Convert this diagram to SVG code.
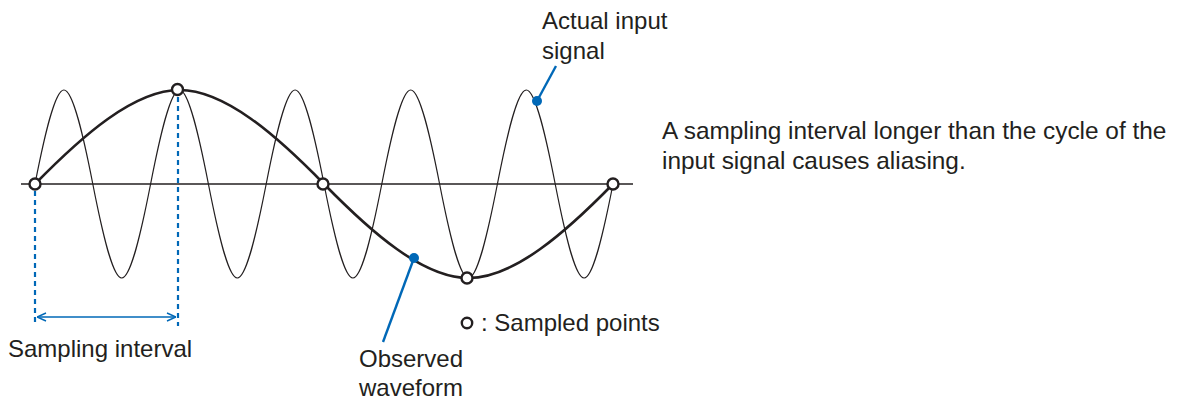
<svg xmlns="http://www.w3.org/2000/svg" width="1178" height="401" viewBox="0 0 1178 401">
<style>
text{font-family:"Liberation Sans",Arial,sans-serif;font-size:24px;fill:#231f20}
.note{font-size:24.4px}
.ax{stroke:#231f20;stroke-width:1.4;fill:none}
.fast{stroke:#231f20;stroke-width:1.2;fill:none}
.slow{stroke:#231f20;stroke-width:2.6;fill:none}
.pt{fill:#fff;stroke:#231f20;stroke-width:2.4}
.dash{stroke:#0068b7;stroke-width:2.2;stroke-dasharray:5 4;fill:none}
.lead{stroke:#0068b7;stroke-width:2.4;fill:none}
.dot{fill:#0068b7}
</style>
<defs>
<marker id="ah" viewBox="0 0 10 10" refX="10" refY="5" markerWidth="10" markerHeight="10" markerUnits="userSpaceOnUse" orient="auto-start-reverse">
<path d="M1,1 L10,5 L1,9" fill="none" stroke="#0068b7" stroke-width="1.5"/>
</marker>
</defs>
<g id="axis"><line class="ax" x1="21" y1="184" x2="633" y2="184"/></g>
<g id="input-signal">
<path class="fast" d="M35,184
c9.42,-48.1 19.77,-94 28.9,-94 c9.13,0 19.48,45.9 28.9,94 c9.42,48.1 19.77,94 28.9,94 c9.13,0 19.48,-45.9 28.9,-94
c9.42,-48.1 19.77,-94 28.9,-94 c9.13,0 19.48,45.9 28.9,94 c9.42,48.1 19.77,94 28.9,94 c9.13,0 19.48,-45.9 28.9,-94
c9.42,-48.1 19.77,-94 28.9,-94 c9.13,0 19.48,45.9 28.9,94 c9.42,48.1 19.77,94 28.9,94 c9.13,0 19.48,-45.9 28.9,-94
c9.42,-48.1 19.77,-94 28.9,-94 c9.13,0 19.48,45.9 28.9,94 c9.42,48.1 19.77,94 28.9,94 c9.13,0 19.48,-45.9 28.9,-94
c9.42,-48.1 19.77,-94 28.9,-94 c9.13,0 19.48,45.9 28.9,94 c9.42,48.1 19.77,94 28.9,94 c9.13,0 19.48,-45.9 28.9,-94"/>
</g>
<g id="observed-waveform">
<path class="slow" d="M35,184 c47.1,-48.1 98.8,-94 144.5,-94 c45.7,0 97.4,45.9 144.5,94 c47.1,48.1 98.8,94 144.5,94 c45.7,0 97.4,-45.9 144.5,-94"/>
</g>
<g id="interval">
<line class="dash" x1="35" y1="191" x2="35" y2="326"/>
<line class="dash" x1="178" y1="97" x2="178" y2="326"/>
<line x1="37" y1="317" x2="176" y2="317" stroke="#0068b7" stroke-width="1.5" marker-start="url(#ah)" marker-end="url(#ah)"/>
</g>
<g id="sampled-points">
<circle class="pt" cx="35" cy="184" r="5.5"/>
<circle class="pt" cx="177.5" cy="89.5" r="5.5"/>
<circle class="pt" cx="323" cy="184" r="5.5"/>
<circle class="pt" cx="467" cy="278" r="5.5"/>
<circle class="pt" cx="613" cy="184" r="5.5"/>
</g>
<g id="connectors">
<line class="lead" x1="556" y1="66" x2="537" y2="101"/>
<circle class="dot" cx="537" cy="101" r="5"/>
<line class="lead" x1="414" y1="258" x2="383" y2="342"/>
<circle class="dot" cx="414" cy="258" r="5"/>
</g>
<g id="label-actual"><text x="542" y="29">Actual input</text><text x="542" y="59">signal</text></g>
<g id="label-observed"><text x="359" y="367">Observed</text><text x="359" y="396">waveform</text></g>
<g id="label-interval"><text x="8" y="357">Sampling interval</text></g>
<g id="legend"><circle class="pt" cx="467" cy="323" r="5.2" stroke-width="2.2"/><text x="481" y="331">: Sampled points</text></g>
<g id="note"><text class="note" x="662" y="139">A sampling interval longer than the cycle of the</text><text class="note" x="662" y="169">input signal causes aliasing.</text></g>
</svg>
